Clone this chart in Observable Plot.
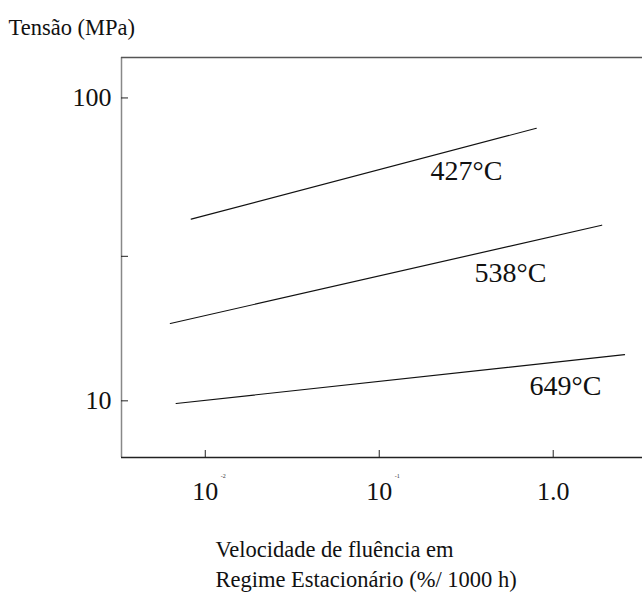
<!DOCTYPE html>
<html>
<head>
<meta charset="utf-8">
<script src="https://cdn.jsdelivr.net/npm/d3@7"></script>
<script src="https://cdn.jsdelivr.net/npm/@observablehq/plot@0.6"></script>
<style>
  html, body { margin: 0; padding: 0; background: #fff; }
  #chart svg { display: block; }
</style>
</head>
<body>
<div id="chart"></div>
<script>
// ---- data ----
const temps = ["427°C", "538°C", "649°C"];
const rateStart = [0.0083, 0.0063, 0.0068];     // %/1000 h
const rateEnd = [0.80, 1.90, 2.57];
const stressStart = [39.8, 18.0, 9.8];          // MPa
const stressEnd = [79.4, 38.0, 14.2];
const labelRate = [0.197, 0.353, 0.731];
const labelStress = [57.3, 26.4, 11.2];

const xTicks = [0.01, 0.1, 1];
const xTickLabels = ["10", "10", "1.0"];
const xTickExp = ["-2", "-1", ""];
const yTicks = [10, 30, 100];
const yTickLabels = ["10", "", "100"];

const xDomain = [0.0033, 3.26];
const yDomain = [6.5, 136];

const yTitle = "Tensão (MPa)";
const xTitle = "Velocidade de fluência em\nRegime Estacionário (%/ 1000 h)";

// ---- build tables ----
const segs = temps.flatMap((t, i) => [
  {t, x: rateStart[i], y: stressStart[i]},
  {t, x: rateEnd[i], y: stressEnd[i]}
]);
const curveLabels = temps.map((t, i) => ({t, x: labelRate[i], y: labelStress[i]}));
const xt = xTicks.map((v, i) => ({v, label: xTickLabels[i], exp: xTickExp[i]}));

const SERIF = "Liberation Serif";

const plotEl = Plot.plot({
  width: 642,
  height: 594,
  marginLeft: 121,
  marginTop: 57,
  marginRight: 0,
  marginBottom: 137,
  x: {type: "log", domain: xDomain},
  y: {type: "log", domain: yDomain},
  marks: [
    // frame lines
    Plot.ruleX([xDomain[0]], {stroke: "#888", strokeWidth: 1.5}),
    Plot.ruleY([yDomain[0]], {stroke: "#222", strokeWidth: 1.5}),
    Plot.ruleY([yDomain[1]], {stroke: "#555", strokeWidth: 1.5}),
    // inward ticks
    Plot.axisY({ticks: yTicks, tickSize: -7, tickFormat: () => "", label: null, stroke: "#222"}),
    Plot.axisX({ticks: xTicks, tickSize: -7, tickFormat: () => "", label: null, stroke: "#222"}),
    // tick labels
    Plot.axisY({ticks: yTicks, tickSize: 0, tickPadding: 10, label: null, fontSize: 26, fontFamily: SERIF,
      tickFormat: d => yTickLabels[yTicks.indexOf(d)], fill: "#111"}),
    Plot.text(xt, {x: "v", text: "label", frameAnchor: "bottom", dy: 24, lineAnchor: "top", fontSize: 26, fontFamily: SERIF, fill: "#111"}),
    Plot.text(xt, {x: "v", text: "exp", frameAnchor: "bottom", dx: 18, dy: 20, fontSize: 6, fontFamily: SERIF, fill: "#333"}),
    // curves
    Plot.line(segs, {x: "x", y: "y", z: "t", stroke: "#111", strokeWidth: 1.2}),
    Plot.text(curveLabels, {x: "x", y: "y", text: "t", textAnchor: "start", fontSize: 28, fontFamily: SERIF, fill: "#111"}),
    // titles
    Plot.text([yTitle], {frameAnchor: "top-left", dx: -113, dy: -23, textAnchor: "start", lineAnchor: "bottom", fontSize: 22.5, fontFamily: SERIF, fill: "#111"}),
    Plot.text([xTitle], {frameAnchor: "bottom-left", dx: 94, dy: 79, textAnchor: "start", lineAnchor: "top", lineHeight: 1.3, fontSize: 22.5, fontFamily: SERIF, fill: "#111"})
  ]
});
document.getElementById("chart").appendChild(plotEl);
</script>
</body>
</html>
